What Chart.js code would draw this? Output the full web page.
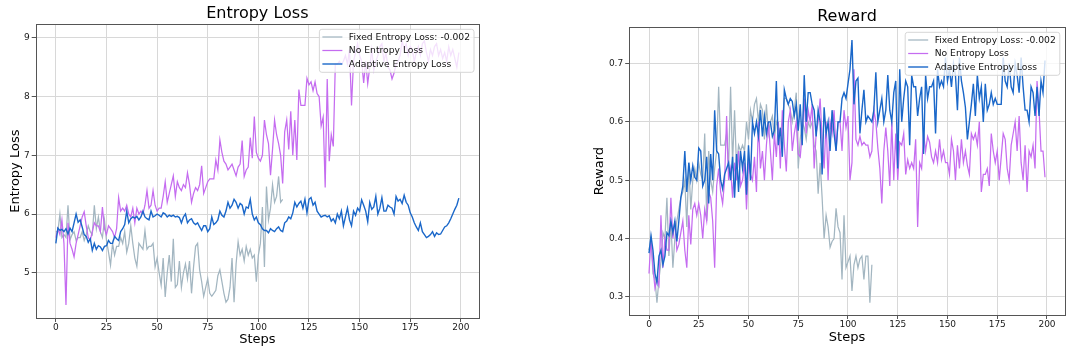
<!DOCTYPE html>
<html><head><meta charset="utf-8">
<script src="https://cdn.jsdelivr.net/npm/chart.js@4.4.1/dist/chart.umd.min.js"></script>
<style>
html,body{margin:0;padding:0;background:#fff;width:1080px;height:357px;overflow:hidden}
#c1{position:absolute;left:0;top:0;width:540px;height:357px}
#c2{position:absolute;left:540px;top:0;width:540px;height:357px}
</style></head><body>
<canvas id="c1" width="540" height="357"></canvas>
<canvas id="c2" width="540" height="357"></canvas>
<script>
// ---------- DATA ----------
const seriesNames = ['Fixed Entropy Loss: -0.002', 'No Entropy Loss', 'Adaptive Entropy Loss'];
const xTickValues = [0, 25, 50, 75, 100, 125, 150, 175, 200];
const xTickLabels = ['0', '25', '50', '75', '100', '125', '150', '175', '200'];
const entropyYTickValues = [5, 6, 7, 8, 9];
const entropyYTickLabels = ['5', '6', '7', '8', '9'];
const rewardYTickValues = [0.3, 0.4, 0.5, 0.6, 0.7];
const rewardYTickLabels = ['0.3', '0.4', '0.5', '0.6', '0.7'];

const entropyFixed = [
5.70,5.70,6.00,5.60,5.65,5.60,6.15,5.56,5.65,5.70,
5.55,5.60,5.60,5.70,5.55,5.65,5.80,5.70,5.65,6.15,
5.75,5.95,5.70,5.60,5.90,5.55,5.35,5.13,5.50,5.30,
5.45,5.45,5.60,5.50,5.70,5.35,5.50,5.80,5.50,5.25,
5.11,5.50,5.45,5.40,5.72,5.40,5.45,5.45,5.50,5.10,
5.25,5.00,4.79,5.25,4.59,5.00,5.30,4.85,5.58,4.75,
4.80,5.20,4.75,5.00,5.15,4.90,5.20,4.65,5.10,5.45,
5.50,5.05,4.85,4.60,4.75,4.90,4.65,4.60,4.65,4.70,
4.95,5.05,4.85,4.65,4.50,4.55,4.75,5.25,4.50,5.15,
5.53,5.30,5.40,5.20,5.45,5.30,5.40,5.25,5.30,4.85,
5.30,5.50,6.12,5.10,6.47,5.90,6.10,6.50,6.20,6.30,
6.64,6.20,6.25];
const entropyNone = [
5.60,5.75,5.65,5.90,5.50,4.45,5.85,5.50,5.40,5.27,
5.50,5.65,5.80,5.95,6.04,5.80,5.60,5.55,5.70,5.85,
5.80,5.80,5.70,6.12,5.75,5.65,5.80,5.75,5.70,5.60,
5.75,6.28,6.05,6.10,6.05,6.15,6.00,5.95,6.10,5.85,
6.10,6.00,6.05,6.00,6.15,6.40,6.10,6.15,6.40,6.15,
6.05,6.10,6.10,6.30,6.55,6.20,6.35,6.50,6.65,6.30,
6.55,6.45,6.40,6.50,6.45,6.70,6.50,6.20,6.35,6.45,
6.40,6.50,6.82,6.35,6.45,6.55,6.60,6.60,6.60,6.92,
6.75,7.26,7.05,6.90,6.85,6.75,6.80,6.85,6.75,6.65,
6.80,6.85,7.25,6.64,6.75,6.80,7.30,6.95,7.66,7.05,
6.95,6.90,7.00,7.60,7.35,7.20,6.66,7.10,7.60,7.35,
7.20,7.00,6.52,7.40,7.60,7.10,7.75,7.00,7.60,6.92,
8.12,7.85,7.85,7.85,8.31,8.20,8.25,8.10,8.25,8.05,
8.00,7.50,7.65,6.45,8.30,6.90,7.35,7.15,8.55,8.55,
8.60,8.55,8.60,8.70,8.55,8.80,7.85,8.60,8.75,8.90,
8.70,8.60,8.23,8.60,8.22,8.50,8.80,8.45,8.60,8.70,
8.85,8.90,8.60,8.75,8.50,8.45,8.30,8.40,8.55,8.60,
8.70,8.95,8.80,8.90,8.70,8.85,8.80,8.60,8.75,8.85,
8.70,8.90,8.95,8.75,8.60,8.80,8.70,8.85,8.90,8.70,
8.80,8.65,8.75,8.60,8.85,8.70,8.80,8.65,8.50,8.75];
const entropyAdaptive = [
5.50,5.76,5.72,5.74,5.70,5.75,5.66,5.76,5.70,5.85,
6.00,5.86,5.90,5.78,5.65,5.62,5.52,5.58,5.38,5.50,
5.40,5.46,5.44,5.38,5.45,5.46,5.55,5.50,5.50,5.62,
5.58,5.55,5.70,5.75,5.82,6.05,5.85,5.92,5.95,5.93,
5.96,5.90,5.95,6.05,5.95,5.92,5.90,6.05,5.95,5.97,
6.00,5.98,5.95,6.02,6.00,5.95,5.98,5.96,5.98,5.95,
5.96,5.94,5.85,5.95,6.00,5.85,5.90,5.92,5.85,5.82,
5.85,5.78,5.72,5.80,5.80,5.70,5.75,5.95,5.82,5.85,
5.90,6.05,5.98,5.95,6.05,6.20,6.10,6.15,6.25,6.20,
6.10,6.18,6.15,6.00,6.12,6.10,6.25,6.00,5.90,5.95,
5.85,5.82,5.75,5.72,5.72,5.68,5.75,5.72,5.70,5.75,
5.78,5.72,5.70,5.85,5.88,5.95,5.92,6.02,6.20,6.12,
6.18,6.22,6.10,6.25,6.02,6.25,6.28,6.15,6.20,6.05,
6.00,5.95,5.97,5.98,5.95,5.97,5.88,5.92,5.85,6.00,
5.92,6.05,5.80,5.95,6.10,5.90,5.80,6.05,5.98,6.10,
6.05,6.24,6.15,6.05,5.87,6.20,6.08,6.12,6.30,6.00,
6.10,6.28,6.05,6.05,6.15,6.12,6.10,6.00,6.30,6.22,
6.25,6.18,6.32,6.20,6.15,6.02,5.95,5.85,5.78,5.72,
5.85,5.70,5.65,5.60,5.62,5.65,5.70,5.62,5.68,5.65,
5.66,5.72,5.78,5.80,5.85,5.92,6.00,6.08,6.15,6.27];

const rewardFixed = [
0.38,0.40,0.34,0.33,0.29,0.33,0.36,0.41,0.40,0.47,
0.37,0.43,0.35,0.40,0.43,0.45,0.47,0.48,0.50,0.42,
0.53,0.45,0.50,0.52,0.50,0.53,0.51,0.50,0.58,0.43,
0.55,0.50,0.48,0.52,0.55,0.66,0.56,0.56,0.56,0.58,
0.52,0.66,0.53,0.62,0.52,0.56,0.55,0.56,0.55,0.60,
0.57,0.62,0.60,0.63,0.64,0.60,0.63,0.62,0.57,0.63,
0.58,0.60,0.61,0.57,0.60,0.59,0.58,0.60,0.64,0.64,
0.63,0.62,0.60,0.62,0.65,0.52,0.57,0.60,0.59,0.57,
0.60,0.59,0.60,0.56,0.55,0.477,0.53,0.47,0.40,0.44,
0.42,0.385,0.395,0.40,0.452,0.42,0.41,0.33,0.44,0.35,
0.36,0.37,0.31,0.355,0.37,0.35,0.365,0.37,0.33,0.37,
0.37,0.29,0.355];
const rewardNone = [
0.34,0.40,0.35,0.315,0.33,0.32,0.44,0.35,0.40,0.38,
0.38,0.47,0.40,0.43,0.38,0.39,0.41,0.43,0.38,0.35,
0.44,0.39,0.45,0.46,0.44,0.46,0.44,0.40,0.45,0.43,
0.48,0.47,0.43,0.35,0.49,0.52,0.48,0.46,0.50,0.61,
0.50,0.52,0.47,0.53,0.50,0.55,0.49,0.50,0.53,0.45,
0.53,0.51,0.50,0.54,0.48,0.60,0.52,0.55,0.50,0.56,
0.60,0.55,0.50,0.58,0.54,0.60,0.52,0.62,0.56,0.515,
0.60,0.62,0.55,0.58,0.60,0.545,0.54,0.58,0.64,0.58,
0.62,0.60,0.63,0.52,0.58,0.60,0.64,0.57,0.52,0.60,
0.50,0.60,0.58,0.62,0.55,0.60,0.60,0.55,0.62,0.59,
0.61,0.50,0.53,0.69,0.57,0.56,0.575,0.56,0.565,0.56,
0.56,0.54,0.55,0.62,0.60,0.555,0.52,0.46,0.55,0.59,
0.55,0.49,0.60,0.50,0.58,0.50,0.565,0.56,0.58,0.51,
0.535,0.52,0.53,0.52,0.57,0.42,0.53,0.52,0.58,0.55,
0.575,0.565,0.54,0.53,0.55,0.53,0.57,0.535,0.55,0.53,
0.53,0.51,0.57,0.55,0.50,0.56,0.52,0.57,0.53,0.55,
0.525,0.51,0.58,0.57,0.58,0.56,0.60,0.48,0.51,0.51,
0.52,0.49,0.58,0.55,0.53,0.55,0.50,0.54,0.58,0.57,
0.52,0.50,0.56,0.58,0.60,0.55,0.61,0.53,0.50,0.56,
0.48,0.55,0.54,0.56,0.52,0.67,0.62,0.55,0.55,0.505];
const rewardAdaptive = [
0.375,0.405,0.38,0.34,0.325,0.37,0.38,0.355,0.37,0.41,
0.405,0.43,0.41,0.43,0.395,0.43,0.47,0.49,0.55,0.48,
0.53,0.50,0.525,0.505,0.50,0.555,0.55,0.49,0.50,0.54,
0.46,0.545,0.50,0.62,0.55,0.545,0.50,0.485,0.51,0.52,
0.53,0.50,0.54,0.47,0.545,0.48,0.55,0.52,0.55,0.475,
0.56,0.50,0.60,0.58,0.60,0.575,0.62,0.575,0.61,0.58,
0.60,0.60,0.575,0.585,0.67,0.56,0.59,0.54,0.655,0.64,
0.63,0.64,0.635,0.61,0.63,0.585,0.63,0.56,0.68,0.60,
0.65,0.65,0.63,0.62,0.575,0.62,0.60,0.51,0.625,0.58,
0.60,0.55,0.62,0.58,0.55,0.60,0.60,0.64,0.65,0.64,
0.665,0.69,0.74,0.63,0.67,0.675,0.58,0.62,0.655,0.60,
0.61,0.605,0.60,0.62,0.685,0.60,0.62,0.64,0.60,0.62,
0.68,0.62,0.60,0.65,0.67,0.52,0.69,0.60,0.64,0.67,
0.66,0.56,0.68,0.66,0.66,0.61,0.64,0.66,0.545,0.68,
0.64,0.66,0.66,0.67,0.58,0.69,0.66,0.67,0.66,0.71,
0.67,0.69,0.66,0.70,0.68,0.62,0.71,0.67,0.65,0.625,
0.57,0.60,0.63,0.665,0.61,0.68,0.64,0.66,0.60,0.665,
0.62,0.63,0.65,0.63,0.64,0.63,0.63,0.63,0.71,0.67,
0.66,0.70,0.66,0.65,0.70,0.68,0.65,0.71,0.66,0.62,
0.62,0.60,0.66,0.65,0.61,0.66,0.61,0.67,0.65,0.705];

// ---------- STYLE ----------
const FONT = '"DejaVu Sans", "Liberation Sans", sans-serif';
const lineColors = ['#a3b6c1', '#c56cf0', '#1a67c9'];
const lineWidths = [1.25, 1.25, 1.4];

const spinesPlugin = {
  id: 'spines',
  afterDatasetsDraw(chart) {
    const {ctx, chartArea: a} = chart;
    ctx.save();
    ctx.strokeStyle = '#555555';
    ctx.lineWidth = 1;
    ctx.strokeRect(Math.round(a.left) + 0.5, Math.round(a.top) + 0.5,
                   Math.round(a.right) - Math.round(a.left), Math.round(a.bottom) - Math.round(a.top));
    ctx.restore();
  }
};

const boxLegendPlugin = {
  id: 'boxLegend',
  afterDraw(chart) {
    const {ctx, chartArea: a} = chart;
    const ds = chart.data.datasets;
    ctx.save();
    ctx.font = '9.2px ' + FONT;
    const tw = Math.max(...ds.map(d => ctx.measureText(d.label).width));
    const w = 3 + 20 + 6.5 + tw + 4;
    const h = 43;
    const x = a.right - 5 - w, y = a.top + 5;
    const r = 2.5;
    ctx.beginPath();
    ctx.moveTo(x + r, y);
    ctx.arcTo(x + w, y, x + w, y + h, r);
    ctx.arcTo(x + w, y + h, x, y + h, r);
    ctx.arcTo(x, y + h, x, y, r);
    ctx.arcTo(x, y, x + w, y, r);
    ctx.closePath();
    ctx.fillStyle = 'rgba(255,255,255,0.8)';
    ctx.fill();
    ctx.strokeStyle = '#d6d6d6';
    ctx.lineWidth = 1;
    ctx.stroke();
    ds.forEach((d, i) => {
      const ly = y + 7.7 + i * 13.5;
      ctx.beginPath();
      ctx.moveTo(x + 3, ly);
      ctx.lineTo(x + 23, ly);
      ctx.strokeStyle = d.borderColor;
      ctx.lineWidth = d.borderWidth;
      ctx.stroke();
      ctx.fillStyle = '#111';
      ctx.textBaseline = 'middle';
      ctx.textAlign = 'left';
      ctx.fillText(d.label, x + 29.5, ly + 0.5);
    });
    ctx.restore();
  }
};

function toPoints(arr) { return arr.map((v, i) => ({x: i, y: v})); }

function makeChart(id, title, yTitle, series, yMin, yMax, yVals, yLabels, L) {
  return new Chart(document.getElementById(id), {
    type: 'line',
    data: {
      datasets: series.map((s, k) => ({
        label: seriesNames[k], data: toPoints(s),
        borderColor: lineColors[k], backgroundColor: lineColors[k],
        borderWidth: lineWidths[k], order: 2 - k,
        pointRadius: 0, fill: false, tension: 0
      }))
    },
    options: {
      responsive: false, animation: false, devicePixelRatio: 1,
      layout: {padding: {left: L.pl, right: L.pr, top: L.pt, bottom: L.pb}},
      plugins: {
        legend: {display: false}, tooltip: {enabled: false},
        title: {display: true, text: title, fullSize: false, color: '#000',
                font: {family: FONT, size: 16, weight: 'normal'},
                padding: {top: 2, bottom: 1.1}}
      },
      scales: {
        x: {
          type: 'linear', min: -9.95, max: 208.95,
          afterBuildTicks: s => { s.ticks = xTickValues.map(v => ({value: v})); },
          afterFit: s => { s.height = L.xh; },
          ticks: {callback: (v, i) => xTickLabels[i], color: '#1a1a1a', padding: 0,
                  font: {family: FONT, size: 9}, maxRotation: 0, autoSkip: false},
          grid: {color: '#d8d8d8', lineWidth: 1, tickColor: '#555', tickLength: 4},
          border: {display: false},
          title: {display: true, text: 'Steps', color: '#000',
                  font: {family: FONT, size: 13}, padding: {top: 0, bottom: L.xtp}}
        },
        y: {
          type: 'linear', min: yMin, max: yMax,
          afterBuildTicks: s => { s.ticks = yVals.map(v => ({value: v})); },
          afterFit: s => { s.width = L.yw; },
          ticks: {callback: (v, i) => yLabels[i], color: '#1a1a1a', padding: 2,
                  font: {family: FONT, size: 9}, autoSkip: false},
          grid: {color: '#d8d8d8', lineWidth: 1, tickColor: '#555', tickLength: 4},
          border: {display: false},
          title: {display: true, text: yTitle, color: '#000',
                  font: {family: FONT, size: 13}, padding: {top: L.ytp, bottom: 0}}
        }
      }
    },
    plugins: [spinesPlugin, boxLegendPlugin]
  });
}

makeChart('c1', 'Entropy Loss', 'Entropy Loss',
  [entropyFixed, entropyNone, entropyAdaptive], 4.23, 9.23,
  entropyYTickValues, entropyYTickLabels,
  {pl: 4, pr: 61, pt: 2, pb: 4, yw: 31.7, xh: 35, xtp: 5.7, ytp: 3.5});

makeChart('c2', 'Reward', 'Reward',
  [rewardFixed, rewardNone, rewardAdaptive], 0.269, 0.762,
  rewardYTickValues, rewardYTickLabels,
  {pl: 48, pr: 15.2, pt: 5, pb: 4, yw: 41.2, xh: 38, xtp: 7.2, ytp: 4});
</script>
</body></html>
